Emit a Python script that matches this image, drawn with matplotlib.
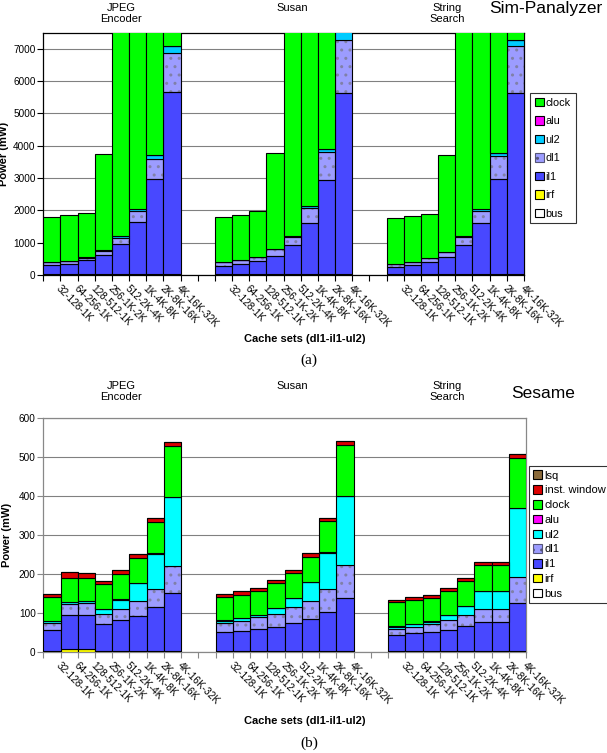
import matplotlib
matplotlib.use('Agg')
import matplotlib.pyplot as plt
import numpy as np
from matplotlib.patches import Patch

plt.rcParams['font.family'] = ['Liberation Sans', 'DejaVu Sans']
plt.rcParams['hatch.linewidth'] = 1.0

configs = ["32-128-1K", "64-256-1K", "128-512-1K", "256-1K-2K",
           "512-2K-4K", "1K-4K-8K", "2K-8K-16K", "4K-16K-32K"]
benchmarks = ["JPEG\nEncoder", "Susan", "String\nSearch"]

# ---- Sim-Panalyzer (mW): JPEG(8), Susan(8), String(8)
sp_bus = [0] * 24
sp_irf = [20] * 24
sp_il1 = [290, 310, 433, 587, 926, 1606, 2964, 5659,
          258, 330, 412, 566, 896, 1575, 2933, 5618,
          217, 278, 381, 536, 906, 1585, 2943, 5618]
sp_dl1 = [80, 102, 82, 144, 206, 360, 616, 1193,
          113, 103, 113, 206, 267, 483, 864, 1636,
          103, 103, 113, 154, 247, 391, 730, 1440]
sp_ul2 = [10, 13, 10, 19, 48, 51, 124, 227,
          9, 9, 10, 13, 37, 52, 92, 280,
          8, 9, 10, 15, 31, 62, 93, 196]
sp_alu = [0] * 24
sp_clock = [1380, 1397, 1389, 2985, 7800, 8963, 10276, 10901,
            1380, 1380, 1420, 2971, 7800, 8900, 10100, 10800,
            1401, 1401, 1379, 2999, 7700, 8800, 10000, 10700]

# ---- Sesame (mW)
se_bus = [0] * 24
se_irf = [3, 8, 8, 4, 4, 4, 4, 4,
          3, 3, 3, 3, 3, 3, 3, 3,
          3, 3, 3, 3, 3, 3, 3, 3]
se_il1 = [53, 88, 88, 69, 78, 88, 112, 147,
          48, 51, 56, 63, 73, 83, 100, 136,
          41, 47, 49, 54, 64, 75, 75, 123]
se_dl1 = [18, 27, 30, 24, 30, 39, 46, 70,
          25, 27, 31, 33, 39, 46, 59, 84,
          15, 16, 20, 25, 28, 33, 33, 66]
se_ul2 = [5, 5, 5, 13, 23, 46, 91, 176,
          5, 6, 5, 14, 23, 47, 93, 177,
          7, 6, 6, 13, 24, 46, 46, 177]
se_alu = [1] * 24
se_clock = [61, 62, 59, 63, 64, 65, 81, 132,
            61, 60, 60, 63, 64, 65, 80, 131,
            61, 60, 59, 61, 62, 65, 65, 129]
se_inst = [8, 14, 13, 10, 10, 9, 9, 9,
           7, 9, 9, 8, 7, 10, 8, 10,
           7, 8, 8, 8, 8, 8, 8, 9]
se_lsq = [0] * 24

C_BUS = 'white'
C_IRF = '#FFFF00'
C_IL1 = '#4848FF'
C_DL1 = '#9C9CFF'
C_UL2_A = '#00CCFF'
C_UL2_B = '#00FFFF'
C_ALU = '#FF00FF'
C_CLOCK = '#00FF00'
C_INST = '#DD0000'
C_LSQ = '#8B6A3A'
HATCH_C = '#8080A8'

# slot positions: 8 bars, 2 empty, 8 bars, 2 empty, 8 bars
slots = [i for i in range(8)] + [i for i in range(10, 18)] + [i for i in range(20, 28)]
xs = np.array(slots) + 0.5

fig = plt.figure(figsize=(6.07, 7.53), dpi=100)


def draw(ax, layers, ylim, yticks, spine_color, ylab_x):
    bottom = np.zeros(24)
    for vals, col, hatch in layers:
        vals = np.array(vals, dtype=float)
        if hatch:
            ax.bar(xs, vals, width=1.0, bottom=bottom, color=col, hatch=hatch,
                   edgecolor=HATCH_C, linewidth=0, zorder=2)
            ax.bar(xs, vals, width=1.0, bottom=bottom, fill=False,
                   edgecolor='black', linewidth=0.8, zorder=3)
        else:
            ax.bar(xs, vals, width=1.0, bottom=bottom, color=col,
                   edgecolor='black', linewidth=0.8, zorder=3)
        bottom += vals
    ax.set_xlim(0, 28)
    ax.set_ylim(*ylim)
    ax.set_yticks(yticks)
    ax.tick_params(axis='y', labelsize=7.2, length=4, width=0.8, pad=1.5,
                   color=spine_color)
    ax.yaxis.grid(True, color='#808080', linewidth=0.8, zorder=0)
    ax.set_axisbelow(True)
    ax.set_xticks(xs)
    ax.set_xticklabels([])
    ax.tick_params(axis='x', which='major', length=0)
    ax.set_xticks(np.arange(0, 29), minor=True)
    ax.tick_params(axis='x', which='minor', length=4, width=0.8, direction='out',
                   color=spine_color)
    for s in ax.spines.values():
        s.set_color(spine_color)
        s.set_linewidth(0.9)
    for x, lab in zip(xs, configs * 3):
        ax.annotate(lab, xy=(x, 0), xycoords=('data', 'axes fraction'),
                    xytext=(7, -6), textcoords='offset points',
                    rotation=-45, ha='left', va='top', rotation_mode='anchor',
                    fontsize=7.2)
    ax.set_ylabel('Power (mW)', fontsize=8, fontweight='bold')
    ax.yaxis.set_label_coords(ylab_x, 0.5)


# ---- top chart
ax1 = fig.add_axes([43.3 / 607, 1 - 275 / 753, (524 - 43.3) / 607, (275 - 32.7) / 753])
draw(ax1, [(sp_bus, C_BUS, None), (sp_irf, C_IRF, None), (sp_il1, C_IL1, None),
           (sp_dl1, C_DL1, '..'), (sp_ul2, C_UL2_A, None), (sp_alu, C_ALU, None),
           (sp_clock, C_CLOCK, None)],
     (0, 7500), np.arange(0, 7001, 1000), 'black', (9 - 43.3) / 480.7)

# ---- bottom chart
ax2 = fig.add_axes([43.3 / 607, 1 - 652.3 / 753, (526 - 43.3) / 607, (652.3 - 418.3) / 753])
draw(ax2, [(se_bus, C_BUS, None), (se_irf, C_IRF, None), (se_il1, C_IL1, None),
           (se_dl1, C_DL1, '..'), (se_ul2, C_UL2_B, None), (se_alu, C_ALU, None),
           (se_clock, C_CLOCK, None), (se_inst, C_INST, None), (se_lsq, C_LSQ, None)],
     (0, 600), np.arange(0, 601, 100), '#888888', (12 - 43.3) / 482.7)

# group titles
gx = [121 / 607, 292 / 607, 447 / 607]
for x, b in zip(gx, benchmarks):
    fig.text(x, 1 - 3 / 753, b, ha='center', va='top', fontsize=8, linespacing=1.1)
    fig.text(x, 1 - 381 / 753, b, ha='center', va='top', fontsize=8, linespacing=1.1)

fig.text(546 / 607, 1 - 9 / 753, 'Sim-Panalyzer', ha='center', va='center', fontsize=12.5)
fig.text(543 / 607, 1 - 393 / 753, 'Sesame', ha='center', va='center', fontsize=12.5)

fig.text(305 / 607, 1 - 339 / 753, 'Cache sets (dl1-il1-ul2)', ha='center', va='center',
         fontsize=8, fontweight='bold')
fig.text(305 / 607, 1 - 721 / 753, 'Cache sets (dl1-il1-ul2)', ha='center', va='center',
         fontsize=8, fontweight='bold')
fig.text(309 / 607, 1 - 360 / 753, '(a)', ha='center', va='center', fontsize=11,
         family=['Liberation Serif', 'DejaVu Serif'])
fig.text(309 / 607, 1 - 743 / 753, '(b)', ha='center', va='center', fontsize=11,
         family=['Liberation Serif', 'DejaVu Serif'])


def handles(names_cols):
    hs = []
    for n, c in names_cols:
        if n == 'dl1':
            hs.append(Patch(facecolor=c, edgecolor='#555577', hatch='..', linewidth=0.8, label=n))
        else:
            hs.append(Patch(facecolor=c, edgecolor='black', linewidth=0.8, label=n))
    return hs


h1 = handles([('clock', C_CLOCK), ('alu', C_ALU), ('ul2', C_UL2_A), ('dl1', C_DL1),
              ('il1', C_IL1), ('irf', C_IRF), ('bus', C_BUS)])
leg1 = fig.legend(handles=h1, loc='upper left', bbox_to_anchor=(530 / 607, 1 - 93 / 753),
                  fontsize=7.8, frameon=True, fancybox=False, edgecolor='black',
                  handlelength=0.8, handleheight=0.8, handletextpad=0.2,
                  labelspacing=0.78, borderpad=0.45, borderaxespad=0)
leg1.get_frame().set_linewidth(0.8)

h2 = handles([('lsq', C_LSQ), ('inst. window', C_INST), ('clock', C_CLOCK), ('alu', C_ALU),
              ('ul2', C_UL2_B), ('dl1', C_DL1), ('il1', C_IL1), ('irf', C_IRF), ('bus', C_BUS)])
leg2 = fig.legend(handles=h2, loc='upper left', bbox_to_anchor=(529 / 607, 1 - 466 / 753),
                  fontsize=8, frameon=True, fancybox=False, edgecolor='black',
                  handlelength=0.8, handleheight=0.8, handletextpad=0.2,
                  labelspacing=0.42, borderpad=0.4, borderaxespad=0)
leg2.get_frame().set_linewidth(0.8)

fig.savefig('out.png', dpi=100)
